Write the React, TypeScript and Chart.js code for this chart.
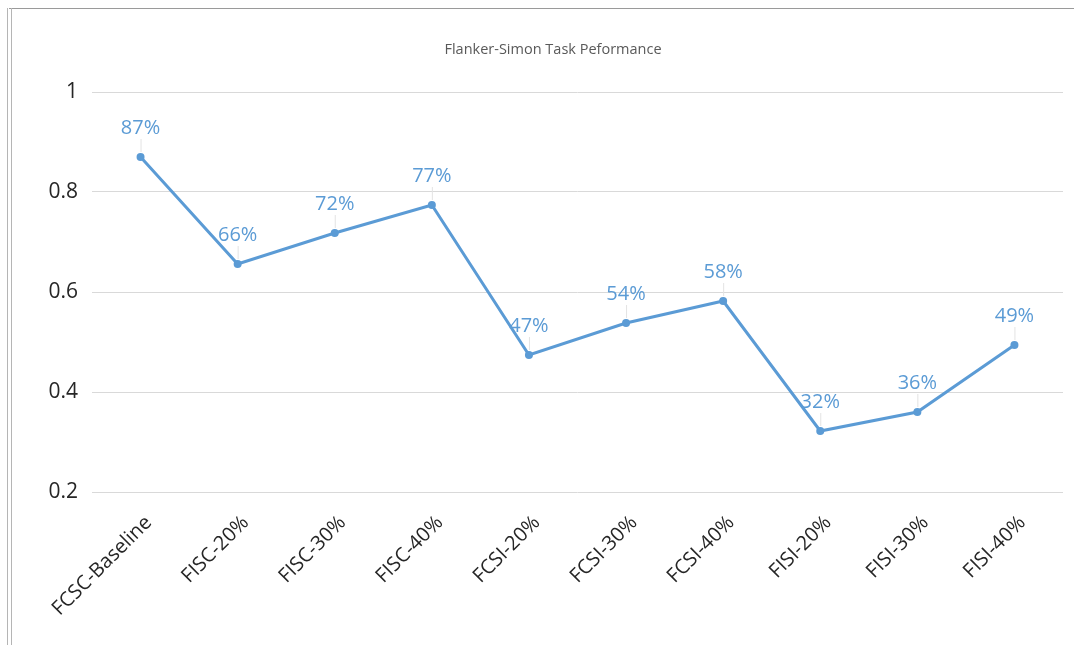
import React, { useEffect, useRef } from "react";
import { Chart, registerables } from "chart.js";

Chart.register(...registerables);

const categories = [
  "FCSC-Baseline",
  "FISC-20%",
  "FISC-30%",
  "FISC-40%",
  "FCSI-20%",
  "FCSI-30%",
  "FCSI-40%",
  "FISI-20%",
  "FISI-30%",
  "FISI-40%",
];
const performance = [0.87, 0.656, 0.718, 0.774, 0.474, 0.538, 0.582, 0.322, 0.36, 0.494];
const yTicks = [0.2, 0.4, 0.6, 0.8, 1];
const title = "Flanker-Simon Task Peformance";

const FONT = "'Open Sans', 'Noto Sans', sans-serif";
const BLUE = "#5b9bd5";

const labelPlugin = {
  id: "pctLabels",
  afterDatasetsDraw(chart: any) {
    const ctx = chart.ctx;
    const meta = chart.getDatasetMeta(0);
    ctx.save();
    meta.data.forEach((pt: any, i: number) => {
      const x = pt.x;
      const y = pt.y;
      ctx.strokeStyle = "#e3e3e3";
      ctx.lineWidth = 1;
      ctx.beginPath();
      ctx.moveTo(x + 0.5, y - 5);
      ctx.lineTo(x + 0.5, y - 18);
      ctx.stroke();
      ctx.fillStyle = BLUE;
      ctx.font = `20px ${FONT}`;
      ctx.textAlign = "center";
      ctx.textBaseline = "middle";
      ctx.fillText(Math.round(performance[i] * 100) + "%", x, y - 29);
    });
    ctx.restore();
  },
  afterDraw(chart: any) {
    const ctx = chart.ctx;
    ctx.save();
    ctx.fillStyle = "#595959";
    ctx.font = `14.5px ${FONT}`;
    ctx.textAlign = "center";
    ctx.textBaseline = "middle";
    ctx.fillText(title, 553, 50);
    ctx.restore();
  },
};

export default function App() {
  const ref = useRef<HTMLCanvasElement | null>(null);

  useEffect(() => {
    document.body.style.margin = "0";
    const chart = new Chart(ref.current as HTMLCanvasElement, {
      type: "line",
      data: {
        labels: categories,
        datasets: [
          {
            data: performance,
            borderColor: BLUE,
            backgroundColor: BLUE,
            borderWidth: 3,
            pointRadius: 4,
            pointBackgroundColor: BLUE,
            pointBorderWidth: 0,
            tension: 0,
          },
        ],
      },
      options: {
        animation: false,
        responsive: false,
        layout: { padding: { top: 92, right: 11, left: 0, bottom: 0 } },
        plugins: { legend: { display: false }, tooltip: { enabled: false }, title: { display: false } },
        scales: {
          x: {
            type: "category",
            offset: true,
            grid: { display: false, drawTicks: false },
            border: { display: false },
            ticks: {
              minRotation: 45,
              maxRotation: 45,
              padding: 19,
              labelOffset: 8,
              color: "#262626",
              font: { family: FONT, size: 20 },
            },
            afterFit(scale: any) {
              scale.height = 153;
            },
          },
          y: {
            min: 0.2,
            max: 1,
            afterBuildTicks(scale: any) {
              scale.ticks = yTicks.map((v) => ({ value: v }));
            },
            grid: { color: "#d9d9d9", drawTicks: false, lineWidth: 1 },
            border: { display: false },
            ticks: {
              padding: 14,
              color: "#262626",
              font: { family: FONT, size: 21 },
              callback: (v: any) => String(Math.round(Number(v) * 10) / 10),
            },
            afterFit(scale: any) {
              scale.width = 92;
            },
          },
        },
      },
      plugins: [labelPlugin],
    } as any);
    return () => chart.destroy();
  }, []);

  return (
    <div style={{ position: "relative", width: 1074, height: 645, background: "#fff", overflow: "hidden" }}>
      <canvas ref={ref} width={1074} height={645} style={{ position: "absolute", left: 0, top: 0 }} />
      <div style={{ position: "absolute", left: 9, top: 8, width: 1065, height: 1, background: "#9a9a9a" }} />
      <div style={{ position: "absolute", left: 7, top: 8, width: 1, height: 637, background: "#b5b5b5" }} />
      <div style={{ position: "absolute", left: 11, top: 8, width: 1, height: 637, background: "#b5b5b5" }} />
    </div>
  );
}
